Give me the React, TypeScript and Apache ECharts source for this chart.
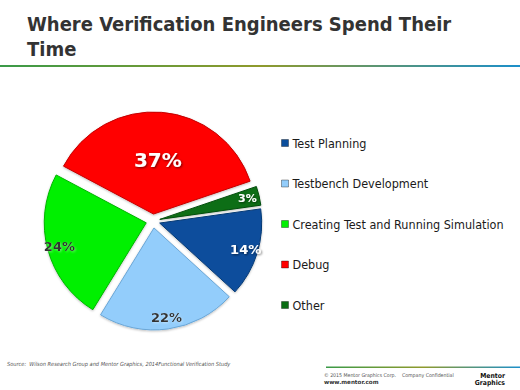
import React, { useEffect, useRef } from "react";
import * as echarts from "echarts";

// ---- data ----
const categories = [
  "Test Planning",
  "Testbench Development",
  "Creating Test and Running Simulation",
  "Debug",
  "Other",
];
const shares = [14, 22, 24, 37, 3];

const titleText = "Where Verification Engineers Spend Their\nTime";
const sourceText =
  "Source:  Wilson Research Group and Mentor Graphics, 2014Functional Verification Study";
const copyrightText = "\u00a9 2015 Mentor Graphics Corp.    Company Confidential";
const urlText = "www.mentor.com";
const logoText = "Mentor\nGraphics";

// ---- styles ----
const sliceColors = ["#0b4e9c", "#93cdfb", "#00f000", "#ff0000", "#0b6e14"];
const sliceBorders = ["#073a75", "#6aa6d6", "#00b400", "#c40000", "#064d0c"];
const labelColors = ["#ffffff", "#333333", "#333333", "#ffffff", "#ffffff"];
const labelSizes = [13, 13, 13, 20, 11];
const BIG = 3; // index of label drawn near the centre

const CX = 153;
const CY = 221;
const R = 102;
const GAP = 7;

const grad = () =>
  new echarts.graphic.LinearGradient(0, 0, 1, 0, [
    { offset: 0, color: "#3a9a48" },
    { offset: 0.5, color: "#8f9a2c" },
    { offset: 1, color: "#1c8fca" },
  ]);

export default function App() {
  const ref = useRef<HTMLDivElement>(null);

  useEffect(() => {
    if (!ref.current) return;
    const chart = echarts.init(ref.current, undefined, { renderer: "svg" });

    const labelStyle = (i: number) => ({
      show: true,
      position: "inside",
      formatter: "{c}%",
      color: labelColors[i],
      fontSize: labelSizes[i],
      fontWeight: "bold",
      fontFamily: "DejaVu Sans",
      textShadowColor: labelColors[i] === "#ffffff" ? "rgba(0,0,0,0.55)" : "rgba(255,255,255,0.4)",
      textShadowBlur: 2,
      textShadowOffsetX: 1,
      textShadowOffsetY: 1,
    });

    const mainData = categories.map((name, i) => {
      const st = {
        color: sliceColors[i],
        borderColor: sliceBorders[i],
        borderWidth: 1,
        shadowColor: "rgba(0,0,0,0.25)",
        shadowBlur: 2,
        shadowOffsetY: 1,
      };
      return {
        name,
        value: shares[i],
        selected: true,
        itemStyle: st,
        select: { itemStyle: st },
        label: i === BIG ? labelStyle(i) : { show: false },
      };
    });

    const clear = { color: "rgba(0,0,0,0)", borderWidth: 0 };
    const labelData = categories.map((name, i) => ({
      name,
      value: shares[i],
      selected: true,
      itemStyle: clear,
      select: { itemStyle: clear },
      label: i !== BIG ? labelStyle(i) : { show: false },
    }));

    chart.setOption({
      animation: false,
      legend: {
        orient: "vertical",
        left: 276,
        top: 131,
        icon: "rect",
        itemWidth: 7,
        itemHeight: 7,
        itemGap: 26.5,
        selectedMode: false,
        data: categories,
        itemStyle: { borderWidth: 1, borderColor: "rgba(0,0,0,0.35)" },
        textStyle: {
          fontFamily: "DejaVu Sans Condensed",
          fontSize: 12.5,
          lineHeight: 14,
          color: "#1a1a1a",
          padding: [0, 0, 0, -1],
        },
      },
      series: [
        {
          type: "pie",
          name: "main",
          center: [CX, CY],
          radius: [0, R],
          startAngle: 8,
          clockwise: true,
          selectedMode: "multiple",
          selectedOffset: GAP,
          avoidLabelOverlap: false,
          silent: true,
          emphasis: { disabled: true },
          labelLine: { show: false },
          z: 2,
          data: mainData,
        },
        {
          type: "pie",
          name: "labels",
          center: [CX, CY],
          radius: [0, 174],
          startAngle: 8,
          clockwise: true,
          selectedMode: "multiple",
          selectedOffset: GAP,
          avoidLabelOverlap: false,
          silent: true,
          legendHoverLink: false,
          emphasis: { disabled: true },
          labelLine: { show: false },
          z: 3,
          data: labelData,
        },
      ],
      graphic: [
        {
          type: "text",
          x: 27,
          y: 11,
          style: {
            text: titleText,
            fill: "#333333",
            fontFamily: "DejaVu Sans Condensed",
            fontWeight: "bold",
            fontSize: 20,
            lineHeight: 25,
          },
        },
        {
          type: "rect",
          shape: { x: 0, y: 65, width: 520, height: 2 },
          style: { fill: grad() },
        },
        {
          type: "text",
          x: 7,
          y: 364,
          style: {
            text: sourceText,
            fill: "#555555",
            fontFamily: "DejaVu Sans Condensed",
            fontStyle: "italic",
            fontSize: 5.6,
            verticalAlign: "middle",
          },
        },
        {
          type: "rect",
          shape: { x: 326, y: 366.5, width: 194, height: 1.5 },
          style: { fill: grad() },
        },
        {
          type: "text",
          x: 324,
          y: 375,
          style: {
            text: copyrightText,
            fill: "#555555",
            fontFamily: "DejaVu Sans Condensed",
            fontSize: 5.2,
            verticalAlign: "middle",
          },
        },
        {
          type: "text",
          x: 324,
          y: 381.5,
          style: {
            text: urlText,
            fill: "#333333",
            fontFamily: "DejaVu Sans",
            fontWeight: "bold",
            fontSize: 5.6,
            verticalAlign: "middle",
          },
        },
        {
          type: "text",
          x: 505,
          y: 379,
          style: {
            text: logoText,
            fill: "#111111",
            fontFamily: "DejaVu Sans Condensed",
            fontWeight: "bold",
            fontSize: 6.8,
            lineHeight: 7,
            align: "right",
            verticalAlign: "middle",
          },
        },
      ],
    });

    return () => chart.dispose();
  }, []);

  return (
    <div
      ref={ref}
      style={{ position: "fixed", left: 0, top: 0, width: 520, height: 390, background: "#ffffff" }}
    />
  );
}
